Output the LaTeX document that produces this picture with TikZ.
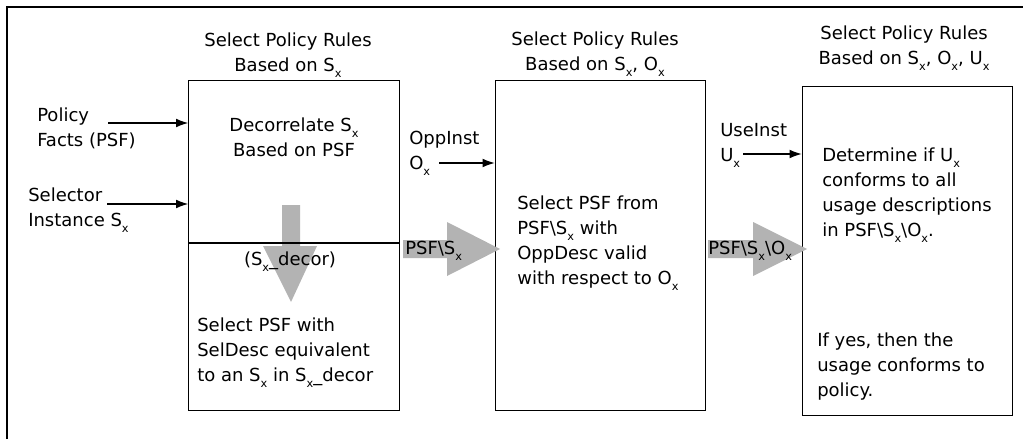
\documentclass[tikz,border=0pt]{standalone}
\usepackage{fontspec}
\setmainfont{DejaVu Sans}
\usetikzlibrary{arrows.meta}
\definecolor{flow-gray}{HTML}{B3B3B3}
\newcommand{\subx}{\raisebox{-4.5pt}{\fontsize{8.5}{8.5}\selectfont x}}

\begin{document}
\begin{tikzpicture}[x=0.75pt, y=-0.75pt,
    every node/.style={font=\fontsize{13.5}{18.75}\selectfont, inner sep=0pt},
    stage/.style={draw, line width=0.8pt, minimum width=158pt, minimum height=247pt},
    caption/.style={align=center, anchor=base},
    note/.style={align=left, anchor=base west},
    feed/.style={-{Latex[length=9pt, width=6.5pt]}, line width=0.8pt}]
  \useasboundingbox (0,0) rectangle (1023,439);
  % outer frame, cut off at the right and bottom
  \draw[line width=1.5pt] (7,439) -- (7,7) -- (1023,7);

  % the three stages
  \node[stage] (sel) at (294,245.5) {};
  \node[stage] (opp) at (600.5,245.5) {};
  \node[stage] (use) at (907.5,251) {};

  \node[caption] (selT) at (288,71) {Select Policy Rules\\Based on S\subx};
  \node[caption] (oppT) at (595,70) {Select Policy Rules\\Based on S\subx, O\subx};
  \node[caption] (useT) at (904,64) {Select Policy Rules\\Based on S\subx, O\subx, U\subx};

  % inputs
  \node[note] (pf) at (37,146) {Policy\\Facts (PSF)};
  \node[note] (si) at (28,226) {Selector\\Instance S\subx};
  \node[note] (oi) at (409,169) {OppInst\\O\subx};
  \node[note] (ui) at (720,161) {UseInst\\U\subx};
  \coordinate (pfout) at (108,123);
  \coordinate (siout) at (107,204);
  \coordinate (oiout) at (439,163);
  \coordinate (uiout) at (743,154);
  \draw[feed] (pfout) -- (pfout -| sel.west);
  \draw[feed] (siout) -- (siout -| sel.west);
  \draw[feed] (oiout) -- (oiout -| opp.west);
  \draw[feed] (uiout) -- (uiout -| use.west);

  % first stage, split in two
  \fill[flow-gray] (282,205) -- (300,205) -- (300,246) -- (317,246) -- (291,302)
    -- (263,246) -- (282,246) -- cycle;
  \draw[line width=0.8pt] (sel.west |- 0,243) -- (sel.east |- 0,243);
  \node[caption] (dec) at (294,156) {Decorrelate S\subx\\Based on PSF};
  \node[caption] (decor) at (290,265) {(S\subx\_decor)};
  \node[note] (selD) at (197,381) {Select PSF with\\SelDesc equivalent\\to an S\subx{} in S\subx\_decor};

  % flows between stages
  \fill[flow-gray] (403,240) -- (447,240) -- (447,222) -- (500,249) -- (447,276)
    -- (447,258) -- (403,258) -- cycle;
  \fill[flow-gray] (708,240) -- (753,240) -- (753,222) -- (807,249) -- (753,276)
    -- (753,258) -- (708,258) -- cycle;
  \node[note] (f1) at (405,254) {PSF\textbackslash S\subx};
  \node[note] (f2) at (708,254) {PSF\textbackslash S\subx\textbackslash O\subx};

  % second and third stage
  \node[note] (oppD) at (517,284) {Select PSF from\\PSF\textbackslash S\subx{} with\\OppDesc valid\\with respect to O\subx};
  \node[note] (useD) at (822,236) {Determine if U\subx\\conforms to all\\usage descriptions\\in PSF\textbackslash S\subx\textbackslash O\subx.};
  \node[note] (useR) at (817,396) {If yes, then the\\usage conforms to\\policy.};
\end{tikzpicture}
\end{document}
